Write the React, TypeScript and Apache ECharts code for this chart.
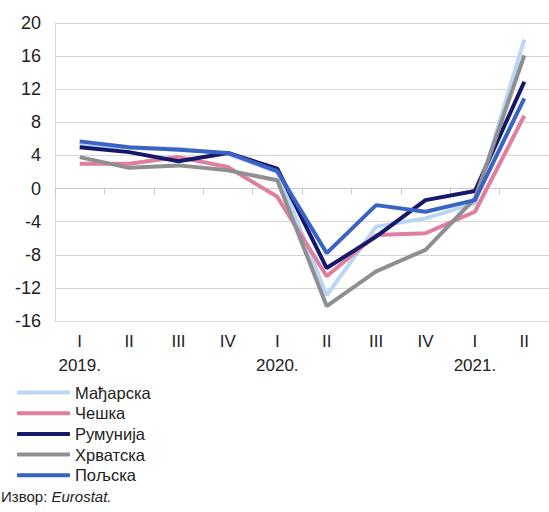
import React, { useEffect, useRef } from "react";
import * as echarts from "echarts";

const quarters = ["I", "II", "III", "IV", "I", "II", "III", "IV", "I", "II"];
const years = ["2019.", "", "", "", "2020.", "", "", "", "2021.", ""];

const hungary = [5.3, 4.9, 4.8, 4.2, 2.0, -12.9, -4.6, -3.6, -1.8, 18.0];
const czechia = [3.0, 3.0, 3.8, 2.6, -1.0, -10.6, -5.6, -5.4, -2.8, 8.8];
const romania = [5.0, 4.4, 3.3, 4.3, 2.4, -9.6, -5.8, -1.4, -0.3, 12.9];
const croatia = [3.8, 2.5, 2.8, 2.2, 1.0, -14.2, -10.0, -7.4, -1.2, 16.1];
const poland = [5.7, 5.0, 4.7, 4.3, 2.1, -7.8, -2.0, -2.8, -1.4, 10.9];

const seriesNames = ["Мађарска", "Чешка", "Румунија", "Хрватска", "Пољска"];
const seriesData = [hungary, czechia, romania, croatia, poland];
const seriesColors = ["#b9d6f2", "#de7f9f", "#15186b", "#8f8f93", "#3a63c4"];

const yMin = -16;
const yMax = 20;
const yStep = 4;

const FONT = "'Liberation Sans', Arial, sans-serif";

export default function App() {
  const ref = useRef<HTMLDivElement>(null);
  useEffect(() => {
    if (!ref.current) return;
    const chart = echarts.init(ref.current, undefined, { renderer: "svg" });
    chart.setOption({
      animation: false,
      backgroundColor: "#ffffff",
      textStyle: { fontFamily: FONT },
      grid: { left: 55, right: 0, top: 23, bottom: 191, containLabel: false },
      xAxis: {
        type: "category",
        data: quarters,
        boundaryGap: true,
        axisLine: { show: true, lineStyle: { color: "#c8c8cc", width: 1 } },
        axisTick: { show: true, length: 6, lineStyle: { color: "#c8c8cc" } },
        axisLabel: {
          margin: 8,
          fontSize: 17,
          color: "#222",
          fontFamily: FONT,
          lineHeight: 24,
          interval: 0,
          formatter: (v: string, i: number) => (years[i] ? `${v}\n${years[i]}` : v),
        },
        splitLine: { show: false },
      },
      yAxis: {
        type: "value",
        min: yMin,
        max: yMax,
        interval: yStep,
        axisLine: { show: true, lineStyle: { color: "#d4d4da", width: 1 } },
        axisTick: { show: false },
        axisLabel: { fontSize: 18, color: "#222", margin: 14, fontFamily: FONT },
        splitLine: { show: true, lineStyle: { color: "#d6d6da", width: 1 } },
      },
      legend: {
        orient: "vertical",
        left: 17,
        top: 384,
        padding: 0,
        icon: "roundRect",
        itemWidth: 53,
        itemHeight: 4,
        itemGap: 3.7,
        textStyle: { fontSize: 16.5, color: "#222", fontFamily: FONT, lineHeight: 17 },
        data: seriesNames,
      },
      series: seriesNames.map((name, i) => ({
        name,
        type: "line",
        data: seriesData[i],
        showSymbol: false,
        symbol: "none",
        lineStyle: { width: 4, color: seriesColors[i] },
        itemStyle: { color: seriesColors[i] },
      })),
      graphic: [
        {
          type: "text",
          left: 1,
          top: 489,
          style: {
            text: "{n|Извор: }{i|Eurostat.}",
            rich: {
              n: { fontSize: 15, fill: "#222", fontFamily: FONT },
              i: { fontSize: 15, fill: "#222", fontFamily: FONT, fontStyle: "italic" },
            },
          },
        },
      ],
    });
    return () => chart.dispose();
  }, []);
  return (
    <div
      ref={ref}
      style={{ position: "fixed", left: 0, top: 0, width: 549, height: 512, background: "#fff" }}
    />
  );
}
